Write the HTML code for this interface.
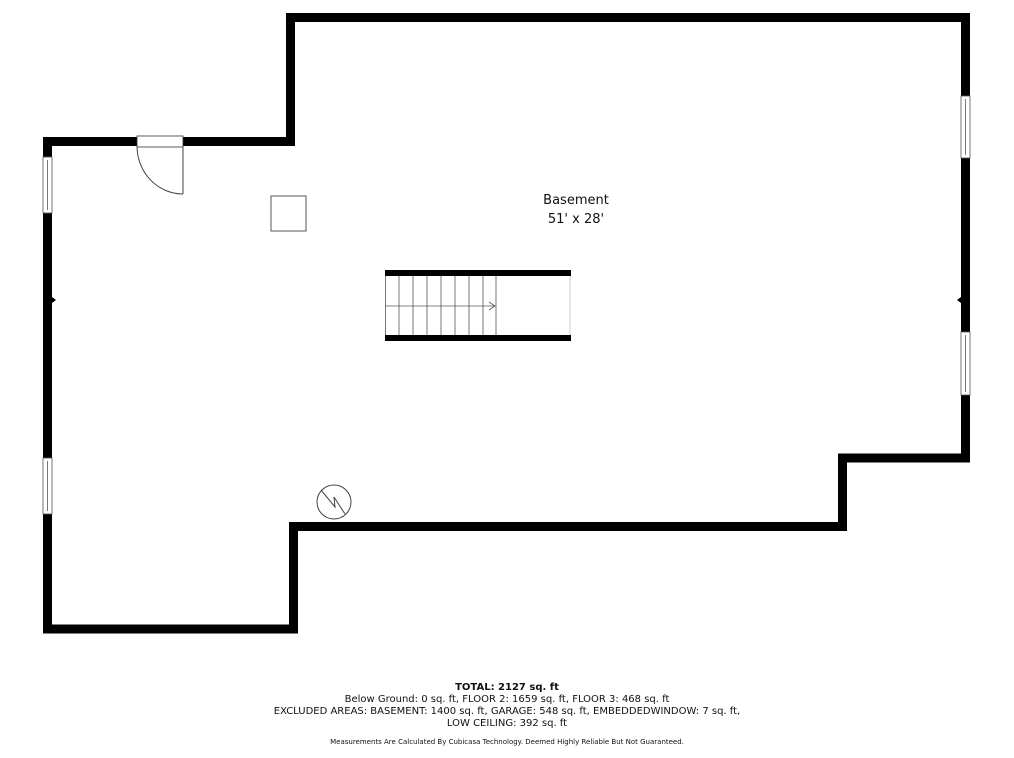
<!DOCTYPE html>
<html><head><meta charset="utf-8"><style>
html,body{margin:0;padding:0;background:#fff;width:1014px;height:758px;overflow:hidden}
svg{display:block}
text{font-family:"DejaVu Sans","Liberation Sans",sans-serif;fill:#111}
</style></head><body>
<svg width="1014" height="758" viewBox="0 0 1014 758">
<polygon points="290.5,17.5 965.5,17.5 965.5,458 842.5,458 842.5,526.5 293.5,526.5 293.5,629 47.5,629 47.5,141.5 290.5,141.5" fill="none" stroke="#000" stroke-width="9" stroke-linejoin="miter"/>
<rect x="137" y="136" width="46" height="11" fill="#fff" stroke="#333" stroke-width="0.8"/>
<line x1="183" y1="146" x2="183" y2="194" stroke="#444" stroke-width="1"/>
<path d="M137,146 A46,48 0 0 0 183,194" fill="none" stroke="#444" stroke-width="1"/>
<g fill="#fff" stroke="#555" stroke-width="0.8">
<rect x="43" y="157" width="9" height="56"/><line x1="47.5" y1="160" x2="47.5" y2="210"/>
<rect x="43" y="458" width="9" height="56"/><line x1="47.5" y1="461" x2="47.5" y2="511"/>
<rect x="961" y="96" width="9" height="62"/><line x1="965.5" y1="99" x2="965.5" y2="155"/>
<rect x="961" y="332" width="9" height="63"/><line x1="965.5" y1="335" x2="965.5" y2="392"/>
</g>
<rect x="271" y="196" width="35" height="35" fill="none" stroke="#555" stroke-width="1"/>
<rect x="385" y="270" width="186" height="6" fill="#000"/>
<rect x="385" y="335" width="186" height="6" fill="#000"/>
<line x1="570" y1="276" x2="570" y2="335" stroke="#ccc" stroke-width="1"/>
<g stroke="#555" stroke-width="0.8">
<line x1="385.5" y1="276" x2="385.5" y2="335"/><line x1="399" y1="276" x2="399" y2="335"/>
<line x1="413" y1="276" x2="413" y2="335"/><line x1="427" y1="276" x2="427" y2="335"/>
<line x1="441" y1="276" x2="441" y2="335"/><line x1="455" y1="276" x2="455" y2="335"/>
<line x1="469" y1="276" x2="469" y2="335"/><line x1="483" y1="276" x2="483" y2="335"/>
<line x1="496" y1="276" x2="496" y2="335"/>
<line x1="385" y1="306" x2="495" y2="306"/>
<polyline points="489,302 495,306 489,310" fill="none"/>
</g>
<circle cx="334" cy="502" r="17" fill="none" stroke="#444" stroke-width="1"/>
<polyline points="321,490 335,507 334,497 345,514" fill="none" stroke="#444" stroke-width="1"/>
<g fill="#000">
<polygon points="764,22 770,22 767,18"/><polygon points="764,522 770,522 767,526"/>
<polygon points="52,297 52,303 56,300"/><polygon points="961,297 961,303 957,300"/>
</g>
<text x="576" y="204" font-size="13" text-anchor="middle">Basement</text>
<text x="576" y="223" font-size="13" text-anchor="middle">51' x 28'</text>
<g text-anchor="middle" font-size="10">
<text x="507" y="690" font-weight="bold">TOTAL: 2127 sq. ft</text>
<text x="507" y="702">Below Ground: 0 sq. ft, FLOOR 2: 1659 sq. ft, FLOOR 3: 468 sq. ft</text>
<text x="507" y="714">EXCLUDED AREAS: BASEMENT: 1400 sq. ft, GARAGE: 548 sq. ft, EMBEDDEDWINDOW: 7 sq. ft,</text>
<text x="507" y="726">LOW CEILING: 392 sq. ft</text>
<text x="507" y="744" font-size="7">Measurements Are Calculated By Cubicasa Technology. Deemed Highly Reliable But Not Guaranteed.</text>
</g>
</svg>
</body></html>
